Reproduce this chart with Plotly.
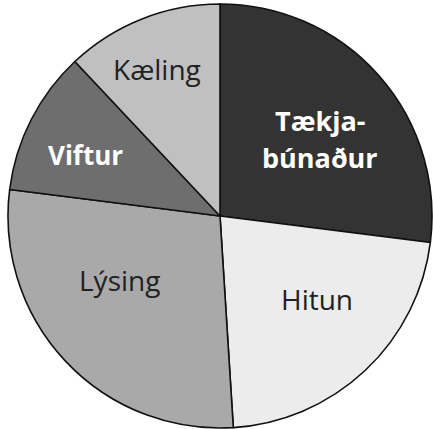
import plotly.graph_objects as go

labels = ["Tækjabúnaður", "Hitun", "Lýsing", "Viftur", "Kæling"]
values = [27, 22, 28, 11, 12]
colors = ["#333333", "#ececec", "#a9a9a9", "#6e6e6e", "#c0c0c0"]

W, H = 433, 429

fig = go.Figure(
    go.Pie(
        labels=labels,
        values=values,
        sort=False,
        direction="clockwise",
        rotation=0,
        textinfo="none",
        hoverinfo="label+percent",
        marker=dict(colors=colors, line=dict(color="#111111", width=1.6)),
        domain=dict(x=[8 / W, 432 / W], y=[1 - 428 / H, 1 - 4 / H]),
        showlegend=False,
    )
)

# slice labels placed where they sit in the original
label_text = ["<b>Tækja-</b>", "<b>búnaður</b>", "Hitun", "Lýsing", "<b>Viftur</b>", "Kæling"]
label_pos = [(320, 120), (320, 158), (317, 299), (119, 280), (85, 155), (157, 69)]
white_bold = dict(color="white", size=27, family="Open Sans")
dark = dict(color="#222222", size=28, family="Open Sans")
label_style = [white_bold, white_bold, dark, dark,
               dict(color="white", size=26, family="Open Sans"), dark]
for t, (px_, py_), f in zip(label_text, label_pos, label_style):
    fig.add_annotation(
        text=t, x=px_ / W, y=1 - py_ / H, xref="paper", yref="paper",
        showarrow=False, font=f, align="center",
        xanchor="center", yanchor="middle",
    )

fig.update_layout(
    width=W, height=H,
    margin=dict(l=0, r=0, t=0, b=0),
    paper_bgcolor="white",
    plot_bgcolor="white",
)

fig.write_html("out.html", config={"displayModeBar": False},
               post_script="document.body.style.margin='0';")
